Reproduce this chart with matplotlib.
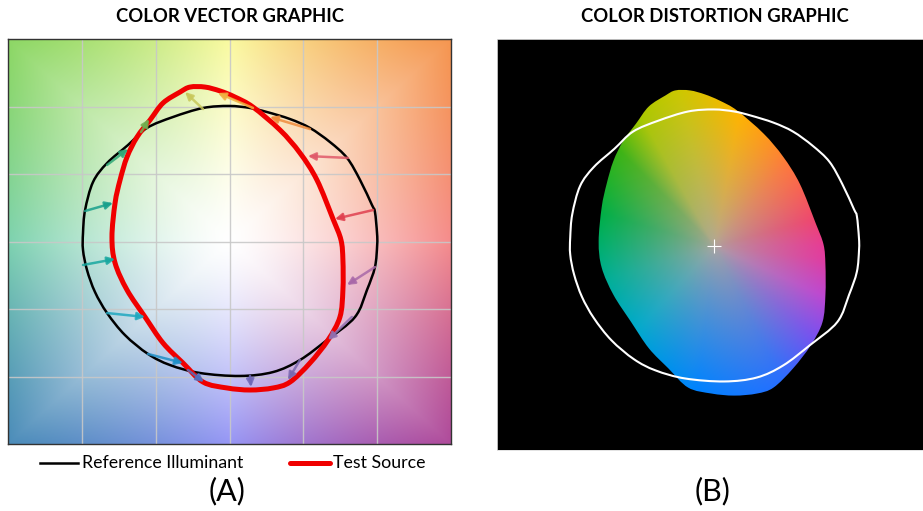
import numpy as np
import matplotlib

matplotlib.use("Agg")
import matplotlib.pyplot as plt
from matplotlib.lines import Line2D
from matplotlib.patches import PathPatch
from matplotlib.path import Path

plt.rcParams["font.family"] = ["Lato", "DejaVu Sans"]

# reference illuminant gamut (normalized a', b')
ref_x = [1.000, 0.999, 0.985, 0.965, 0.884, 0.796, 0.680, 0.545, 0.410, 0.254, 0.139,
         -0.003, -0.179, -0.383, -0.559, -0.687, -0.829, -0.924, -0.978, -0.992, -0.992,
         -0.965, -0.911, -0.829, -0.708, -0.552, -0.403, -0.200, 0.071, 0.295, 0.477,
         0.660, 0.850, 0.931, 0.985]
ref_y = [-0.026, 0.063, 0.219, 0.270, 0.456, 0.619, 0.737, 0.841, 0.907, 0.959, 0.989,
         1.004, 0.989, 0.922, 0.841, 0.715, 0.581, 0.441, 0.233, 0.063, -0.063,
         -0.211, -0.374, -0.530, -0.693, -0.833, -0.915, -0.974, -0.996, -0.967, -0.878,
         -0.730, -0.559, -0.359, -0.189]

# test source gamut
test_x = [0.768, 0.755, 0.701, 0.592, 0.477, 0.342, 0.159, 0.037, -0.064, -0.166, -0.267,
          -0.335, -0.450, -0.538, -0.626, -0.694, -0.741, -0.775, -0.796, -0.775, -0.694,
          -0.572, -0.450, -0.315, -0.179, -0.017, 0.139, 0.295, 0.410, 0.545, 0.667,
          0.748, 0.768]
test_y = [-0.137, 0.011, 0.167, 0.456, 0.656, 0.826, 0.996, 1.070, 1.115, 1.144, 1.144,
          1.107, 1.026, 0.900, 0.774, 0.626, 0.456, 0.285, 0.033, -0.159, -0.359,
          -0.559, -0.752, -0.900, -1.041, -1.085, -1.100, -1.085, -1.041, -0.900, -0.730,
          -0.559, -0.359]

# 16 hue-bin vectors: tail on reference, head on test
vec_x0 = [0.972, 0.802, 0.545, 0.159, -0.179, -0.599, -0.829, -0.978,
          -0.992, -0.829, -0.552, -0.281, 0.139, 0.477, 0.829, 0.985]
vec_y0 = [0.233, 0.619, 0.833, 0.989, 0.981, 0.811, 0.567, 0.226,
          -0.174, -0.530, -0.833, -0.952, -0.996, -0.878, -0.559, -0.189]
vec_x1 = [0.714, 0.531, 0.274, -0.078, -0.301, -0.545, -0.687, -0.789,
          -0.775, -0.572, -0.315, -0.173, 0.146, 0.396, 0.667, 0.796]
vec_y1 = [0.167, 0.633, 0.922, 1.100, 1.107, 0.907, 0.685, 0.285,
          -0.130, -0.559, -0.900, -1.041, -1.078, -1.026, -0.730, -0.322]
vec_colors = ["#e0404f", "#e05a6a", "#f08c3c", "#f0b040", "#c8c85a", "#70b050",
              "#30a878", "#18a08c", "#18a8a0", "#20a8c0", "#2090c8", "#5070c0",
              "#7068b8", "#7a68b0", "#9070b0", "#a868a8"]

# background hue anchors (angle in degrees -> rgb at the frame edge)
bg_angles = [0, 45, 90, 135, 180, 225, 270, 315, 360]
bg_colors = [(245, 140, 140), (245, 150, 80), (250, 250, 160), (140, 215, 100),
             (125, 210, 175), (75, 140, 185), (150, 150, 245), (175, 75, 155),
             (245, 140, 140)]

# distortion blob hue anchors
blob_angles = [0, 16, 50, 80, 102, 118, 133, 163, 198, 229, 264, 295, 316, 334, 353, 360]
blob_colors = [(230, 60, 150), (240, 70, 110), (255, 120, 60), (255, 180, 0),
               (205, 200, 0), (170, 200, 0), (60, 180, 20), (0, 175, 70),
               (0, 175, 150), (0, 170, 205), (0, 130, 255), (40, 110, 255),
               (120, 80, 240), (190, 70, 210), (225, 60, 160), (230, 60, 150)]


def hue_image(X, Y, angles, colors):
    ang = np.degrees(np.arctan2(Y, X)) % 360
    cols = np.array(colors, dtype=float) / 255
    return np.stack([np.interp(ang, angles, cols[:, k]) for k in range(3)], axis=-1)


def smooth_path(xs, ys):
    """Closed Bezier path through the given points (Catmull-Rom tangents)."""
    p = np.column_stack([xs, ys])
    n = len(p)
    verts = [p[0]]
    codes = [Path.MOVETO]
    for i in range(n):
        p0, p1, p2, p3 = p[i - 1], p[i], p[(i + 1) % n], p[(i + 2) % n]
        verts += [p1 + (p2 - p0) / 6, p2 - (p3 - p1) / 6, p2]
        codes += [Path.CURVE4] * 3
    return Path(verts, codes)


fig = plt.figure(figsize=(9.23, 5.11), dpi=100)
W, H = 923, 511

# ---------------- (A) colour vector graphic ----------------
ax = fig.add_axes([8 / W, 1 - 444 / H, 443 / W, 405 / H])
g = np.linspace(-1.5, 1.5, 400)
X, Y = np.meshgrid(g, g)
rgb = hue_image(X, Y, bg_angles, bg_colors)
t = (np.maximum(np.abs(X), np.abs(Y)) / 1.5) ** 1.35
bg = (1 - t)[..., None] + rgb * t[..., None]
ax.imshow(bg, extent=(-1.5, 1.5, -1.5, 1.5), origin="lower", aspect="auto",
          interpolation="bilinear", zorder=0)
ax.set_xlim(-1.5, 1.5)
ax.set_ylim(-1.5, 1.5)
ticks = [-1, -0.5, 0, 0.5, 1]
ax.set_xticks(ticks)
ax.set_yticks(ticks)
ax.tick_params(length=0, labelbottom=False, labelleft=False)
ax.grid(True, color="#c8c8c8", lw=1.0, alpha=0.9)
for sp in ax.spines.values():
    sp.set_color("#333333")
    sp.set_linewidth(1.0)

ref_path = smooth_path(ref_x, ref_y)
test_path = smooth_path(test_x, test_y)
ax.add_patch(PathPatch(ref_path, facecolor="none", edgecolor="black", lw=1.8, zorder=3))
ax.add_patch(PathPatch(test_path, facecolor="none", edgecolor="#f00000", lw=3.6,
                       zorder=4, joinstyle="round"))
for x0, y0, x1, y1, c in zip(vec_x0, vec_y0, vec_x1, vec_y1, vec_colors):
    ax.annotate("", xy=(x1, y1), xytext=(x0, y0), zorder=5,
                arrowprops=dict(arrowstyle="-|>", color=c, lw=1.8, alpha=0.85,
                                mutation_scale=11, shrinkA=0, shrinkB=0))

fig.text(230 / W, 1 - 17 / H, "COLOR VECTOR GRAPHIC", ha="center", va="center",
         fontsize=13.3, fontweight="bold")

# legend
fig.add_artist(Line2D([40 / W, 78 / W], [1 - 463 / H] * 2, color="black", lw=1.8))
fig.text(82 / W, 1 - 463 / H, "Reference Illuminant", ha="left", va="center", fontsize=12.8)
fig.add_artist(Line2D([290 / W, 330 / W], [1 - 463 / H] * 2, color="#f00000", lw=3.6,
                      solid_capstyle="round"))
fig.text(333 / W, 1 - 463 / H, "Test Source", ha="left", va="center", fontsize=12.8)
fig.text(227 / W, 1 - 491 / H, "(A)", ha="center", va="center", fontsize=22)

# ---------------- (B) colour distortion graphic ----------------
bx = fig.add_axes([497 / W, 1 - 450 / H, 426 / W, 411 / H])
bx.set_facecolor("black")
bx.set_xlim(-1.497, 1.441)
bx.set_ylim(-1.5, 1.522)
bx.set_xticks([])
bx.set_yticks([])
for sp in bx.spines.values():
    sp.set_color("#dddddd")
    sp.set_linewidth(0.6)

gx = np.linspace(-1.3, 1.3, 500)
BX, BY = np.meshgrid(gx, gx)
brgb = hue_image(BX, BY, blob_angles, blob_colors)
# radius of blob edge at each angle, for shading toward the rim
b_ang = np.degrees(np.arctan2(test_y, test_x)) % 360
b_rad = np.hypot(test_x, test_y)
order = np.argsort(b_ang)
ang_s = np.concatenate([b_ang[order] - 360, b_ang[order], b_ang[order] + 360])
rad_s = np.concatenate([b_rad[order]] * 3)
pix_ang = np.degrees(np.arctan2(BY, BX)) % 360
rim = np.interp(pix_ang, ang_s, rad_s)
tb = np.clip(np.hypot(BX, BY) / rim, 0, 1) ** 0.75
centre = np.array([0.68, 0.65, 0.62])
blob = centre * (1 - tb)[..., None] + brgb * tb[..., None]
im = bx.imshow(blob, extent=(-1.3, 1.3, -1.3, 1.3), origin="lower", aspect="auto",
               interpolation="bilinear", zorder=1)
patch = PathPatch(test_path, facecolor="none", edgecolor="none")
bx.add_patch(patch)
im.set_clip_path(patch)
bx.add_patch(PathPatch(ref_path, facecolor="none", edgecolor="white", lw=1.5, zorder=3))
bx.plot(0, 0, marker="+", color="white", ms=10, mew=0.8, zorder=4)

fig.text(715 / W, 1 - 17 / H, "COLOR DISTORTION GRAPHIC", ha="center", va="center",
         fontsize=13.3, fontweight="bold")
fig.text(713 / W, 1 - 491 / H, "(B)", ha="center", va="center", fontsize=22)

fig.savefig("out.png", dpi=100)
